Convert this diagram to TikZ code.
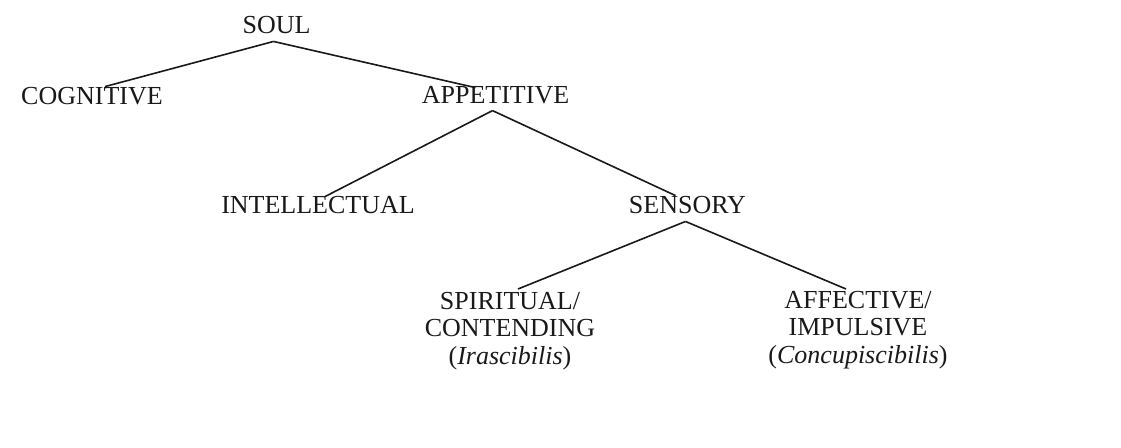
\documentclass[tikz,border=0pt]{standalone}
\usepackage{fontspec}
\setmainfont{Liberation Serif}
\usetikzlibrary{positioning, calc}
\definecolor{ink}{RGB}{25, 25, 25}

\begin{document}
\begin{tikzpicture}[x=1pt, y=-1pt, font=\fontsize{26}{27.5}\selectfont,
    term/.style={inner sep=0pt, text=ink},
    branch/.style={line width=1.6pt, draw=ink}]
                \useasboundingbox (0,0) rectangle (1121,447);

                % Level 1: Soul
                \node[term, anchor=base] (soul) at (276.5, 33) {SOUL};

                % Level 2: Cognitive / Appetitive
                \node[term, anchor=base] (cog) at (92, 104) {COGNITIVE};
                \node[term, anchor=base] (app) at (495.5, 103) {APPETITIVE};

                % Level 3: Intellectual / Sensory
                \node[term, anchor=base] (intel) at (318, 213) {INTELLECTUAL};
                \node[term, anchor=base] (sens) at (687.5, 213) {SENSORY};

                % Level 4: the two sensory appetites
                \node[term, anchor=north, align=center] (spir) at (510, 292) {SPIRITUAL/\\CONTENDING\\(\textit{Irascibilis})};
                \node[term, anchor=north, align=center] (aff) at (858, 291) {AFFECTIVE/\\IMPULSIVE\\(\textit{Concupiscibilis})};

                % Branches
                \draw[branch] ([shift={(-3,8)}]soul.south) -- ([xshift=13pt]cog.north);
                \draw[branch] ([shift={(-3,8)}]soul.south) -- ([xshift=-20pt, yshift=-2pt]app.north);
                \draw[branch] ([shift={(-3,7)}]app.south) -- ([xshift=7pt, yshift=-1pt]intel.north);
                \draw[branch] ([shift={(-3,7)}]app.south) -- ([xshift=-12pt]sens.north);
                \draw[branch] ([shift={(-2,8)}]sens.south) -- ([xshift=8pt, yshift=3pt]spir.north);
                \draw[branch] ([shift={(-2,8)}]sens.south) -- ([xshift=-12pt, yshift=2pt]aff.north);
            \end{tikzpicture}
\end{document}
